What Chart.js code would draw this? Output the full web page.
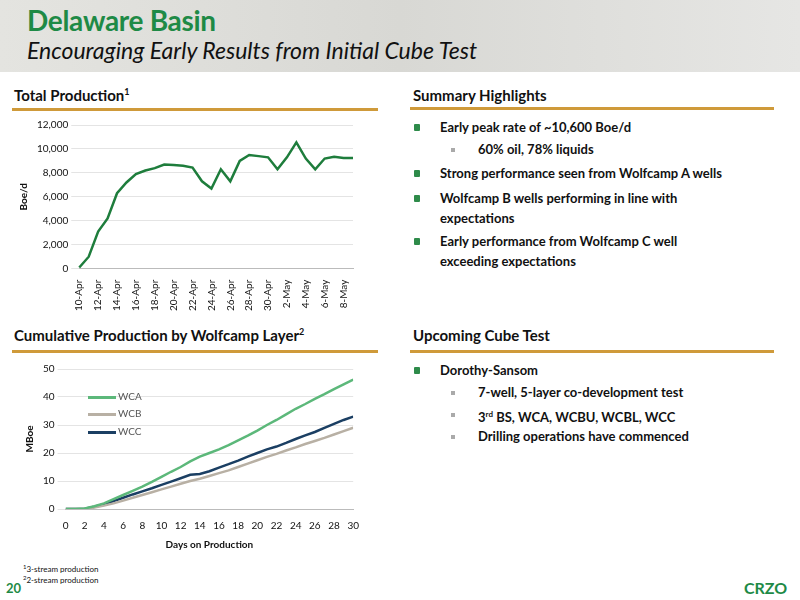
<!DOCTYPE html>
<html><head><meta charset="utf-8">
<script src="https://cdn.jsdelivr.net/npm/chart.js@4"></script>
<style>
body{margin:0;width:800px;height:600px;position:relative;background:#fff;font-family:Lato,"Open Sans",sans-serif;overflow:hidden}
.hdr{position:absolute;left:0;top:0;width:800px;height:72px;background:linear-gradient(90deg,#e4e4e0,#d8d8d4 50%,#e6e6e4);}
.t1{position:absolute;left:27px;top:3px;font-size:28px;font-weight:bold;color:#1e8a46;letter-spacing:-0.3px}
.t2{position:absolute;left:27px;top:36px;font-size:23px;font-style:italic;color:#111;}
.sec{position:absolute;font-size:15px;font-weight:bold;color:#111}
.line{position:absolute;height:3px;background:#cf9a3a}
.b{position:absolute;font-size:13px;font-weight:bold;color:#111;line-height:20px}
.sq{position:absolute;width:6px;height:7px;background:#2e8b4a;border-radius:1px}
.sq2{position:absolute;width:4px;height:4px;background:#aaa}
.lg{position:absolute;font-size:10px;color:#555}
.lg i{display:inline-block;width:28px;height:3px;vertical-align:middle;margin-right:2px}
.fn{position:absolute;left:23px;font-size:8px;color:#111;line-height:10px}
.fn span{font-size:6px;vertical-align:3px}
</style></head><body>
<div class="hdr"></div>
<div class="t1">Delaware Basin</div>
<div class="t2">Encouraging Early Results from Initial Cube Test</div>
<div class="sec" style="left:14px;top:86px">Total Production<sup style="font-size:9px">1</sup></div>
<div class="line" style="left:12px;top:108px;width:366px"></div>
<div class="sec" style="left:413px;top:86px">Summary Highlights</div>
<div class="line" style="left:410px;top:107px;width:364px"></div>
<div class="sec" style="left:14px;top:326px">Cumulative Production by Wolfcamp Layer<sup style="font-size:9px">2</sup></div>
<div class="line" style="left:12px;top:350px;width:366px"></div>
<div class="sec" style="left:413px;top:326px">Upcoming Cube Test</div>
<div class="line" style="left:410px;top:350px;width:364px"></div>

<div class="sq" style="left:414px;top:124px"></div><div class="b" style="left:440px;top:117px">Early peak rate of ~10,600 Boe/d</div>
<div class="sq2" style="left:451px;top:148px"></div><div class="b" style="left:478px;top:139px">60% oil, 78% liquids</div>
<div class="sq" style="left:414px;top:170px"></div><div class="b" style="left:440px;top:163px">Strong performance seen from Wolfcamp A wells</div>
<div class="sq" style="left:414px;top:195px"></div><div class="b" style="left:440px;top:188px">Wolfcamp B wells performing in line with<br>expectations</div>
<div class="sq" style="left:414px;top:238px"></div><div class="b" style="left:440px;top:231px">Early performance from Wolfcamp C well<br>exceeding expectations</div>

<div class="sq" style="left:414px;top:367px"></div><div class="b" style="left:440px;top:360px">Dorothy-Sansom</div>
<div class="sq2" style="left:451px;top:391px"></div><div class="b" style="left:478px;top:382px">7-well, 5-layer co-development test</div>
<div class="sq2" style="left:451px;top:413px"></div><div class="b" style="left:478px;top:404px">3<sup style="font-size:8px">rd</sup> BS, WCA, WCBU, WCBL, WCC</div>
<div class="sq2" style="left:451px;top:435px"></div><div class="b" style="left:478px;top:426px">Drilling operations have commenced</div>

<div style="position:absolute;left:14px;top:116px;width:354px;height:198px"><canvas id="c1"></canvas></div>
<div style="position:absolute;left:20px;top:360px;width:342px;height:195px"><canvas id="c2"></canvas></div>
<div class="lg" style="left:88px;top:390px"><i style="background:#5cb87a"></i>WCA</div>
<div class="lg" style="left:88px;top:407px"><i style="background:#b8b0a4"></i>WCB</div>
<div class="lg" style="left:88px;top:425px"><i style="background:#1b3f63"></i>WCC</div>

<div class="fn" style="top:562px"><span>1</span>3-stream production</div>
<div class="fn" style="top:573px"><span>2</span>2-stream production</div>
<div style="position:absolute;left:6px;top:580px;font-size:13px;font-weight:bold;color:#1e8a46">20</div>
<div style="position:absolute;left:744px;top:578px;font-size:16px;font-weight:bold;color:#1e8a46">CRZO</div>
<script>
const dates=["10-Apr","11-Apr","12-Apr","13-Apr","14-Apr","15-Apr","16-Apr","17-Apr","18-Apr","19-Apr","20-Apr","21-Apr","22-Apr","23-Apr","24-Apr","25-Apr","26-Apr","27-Apr","28-Apr","29-Apr","30-Apr","1-May","2-May","3-May","4-May","5-May","6-May","7-May","8-May","9-May"];
const total=[100,1000,3100,4200,6300,7200,7900,8200,8400,8700,8650,8600,8450,7300,6700,8300,7300,9000,9500,9400,9300,8300,9300,10550,9200,8300,9200,9350,9250,9250];
const days=[0,1,2,3,4,5,6,7,8,9,10,11,12,13,14,15,16,17,18,19,20,21,22,23,24,25,26,27,28,29,30];
const wca=[0,0,0.2,1,2,3.5,5,6.5,8,9.7,11.5,13.3,15,17,18.7,20,21.3,22.8,24.5,26.2,28,30,31.8,33.8,35.8,37.5,39.3,41,42.8,44.5,46.2];
const wcb=[0,0,0,0.5,1.2,2,3,4,5,6,7,8,9,10,10.8,11.8,12.8,13.8,15,16.2,17.4,18.6,19.7,20.9,22,23.2,24.3,25.4,26.6,27.8,29];
const wcc=[0,0,0.1,0.8,1.7,2.8,4,5.2,6.3,7.4,8.6,9.8,11,12.2,12.5,13.5,14.8,16,17.3,18.7,20,21.3,22.3,23.6,25,26.3,27.5,29,30.4,31.8,33];
const F={family:'Lato, sans-serif',size:10};
Chart.defaults.font=F;Chart.defaults.color='#111';
new Chart(c1,{type:'line',data:{labels:dates,datasets:[{data:total,borderColor:'#1e7d3c',borderWidth:2.5,pointRadius:0,tension:0}]},
options:{responsive:true,maintainAspectRatio:false,animation:false,plugins:{legend:{display:false}},layout:{padding:{right:2}},
scales:{x:{offset:false,grid:{display:false},border:{color:'#bbb'},ticks:{autoSkip:false,maxRotation:90,minRotation:90,callback:(v,i)=>i%2?'':dates[i]}},
y:{min:0,max:12000,ticks:{stepSize:2000},grid:{color:'#e4e4e4'},border:{display:false},title:{display:true,text:'Boe/d',font:{weight:'bold',size:10}}}}}});
new Chart(c2,{type:'line',data:{labels:days,datasets:[
{data:wca,borderColor:'#5cb87a',borderWidth:2.5,pointRadius:0},
{data:wcb,borderColor:'#b8b0a4',borderWidth:2.5,pointRadius:0},
{data:wcc,borderColor:'#1b3f63',borderWidth:2.5,pointRadius:0}]},
options:{responsive:true,maintainAspectRatio:false,animation:false,plugins:{legend:{display:false}},layout:{padding:{right:6}},
scales:{x:{type:'linear',min:0,max:30,grid:{display:false},border:{color:'#bbb'},ticks:{stepSize:2},title:{display:true,text:'Days on Production',font:{weight:'bold',size:10}}},
y:{min:0,max:50,ticks:{stepSize:10},grid:{color:'#e4e4e4'},border:{display:false},title:{display:true,text:'MBoe',font:{weight:'bold',size:10}}}}}});
</script>
</body></html>
